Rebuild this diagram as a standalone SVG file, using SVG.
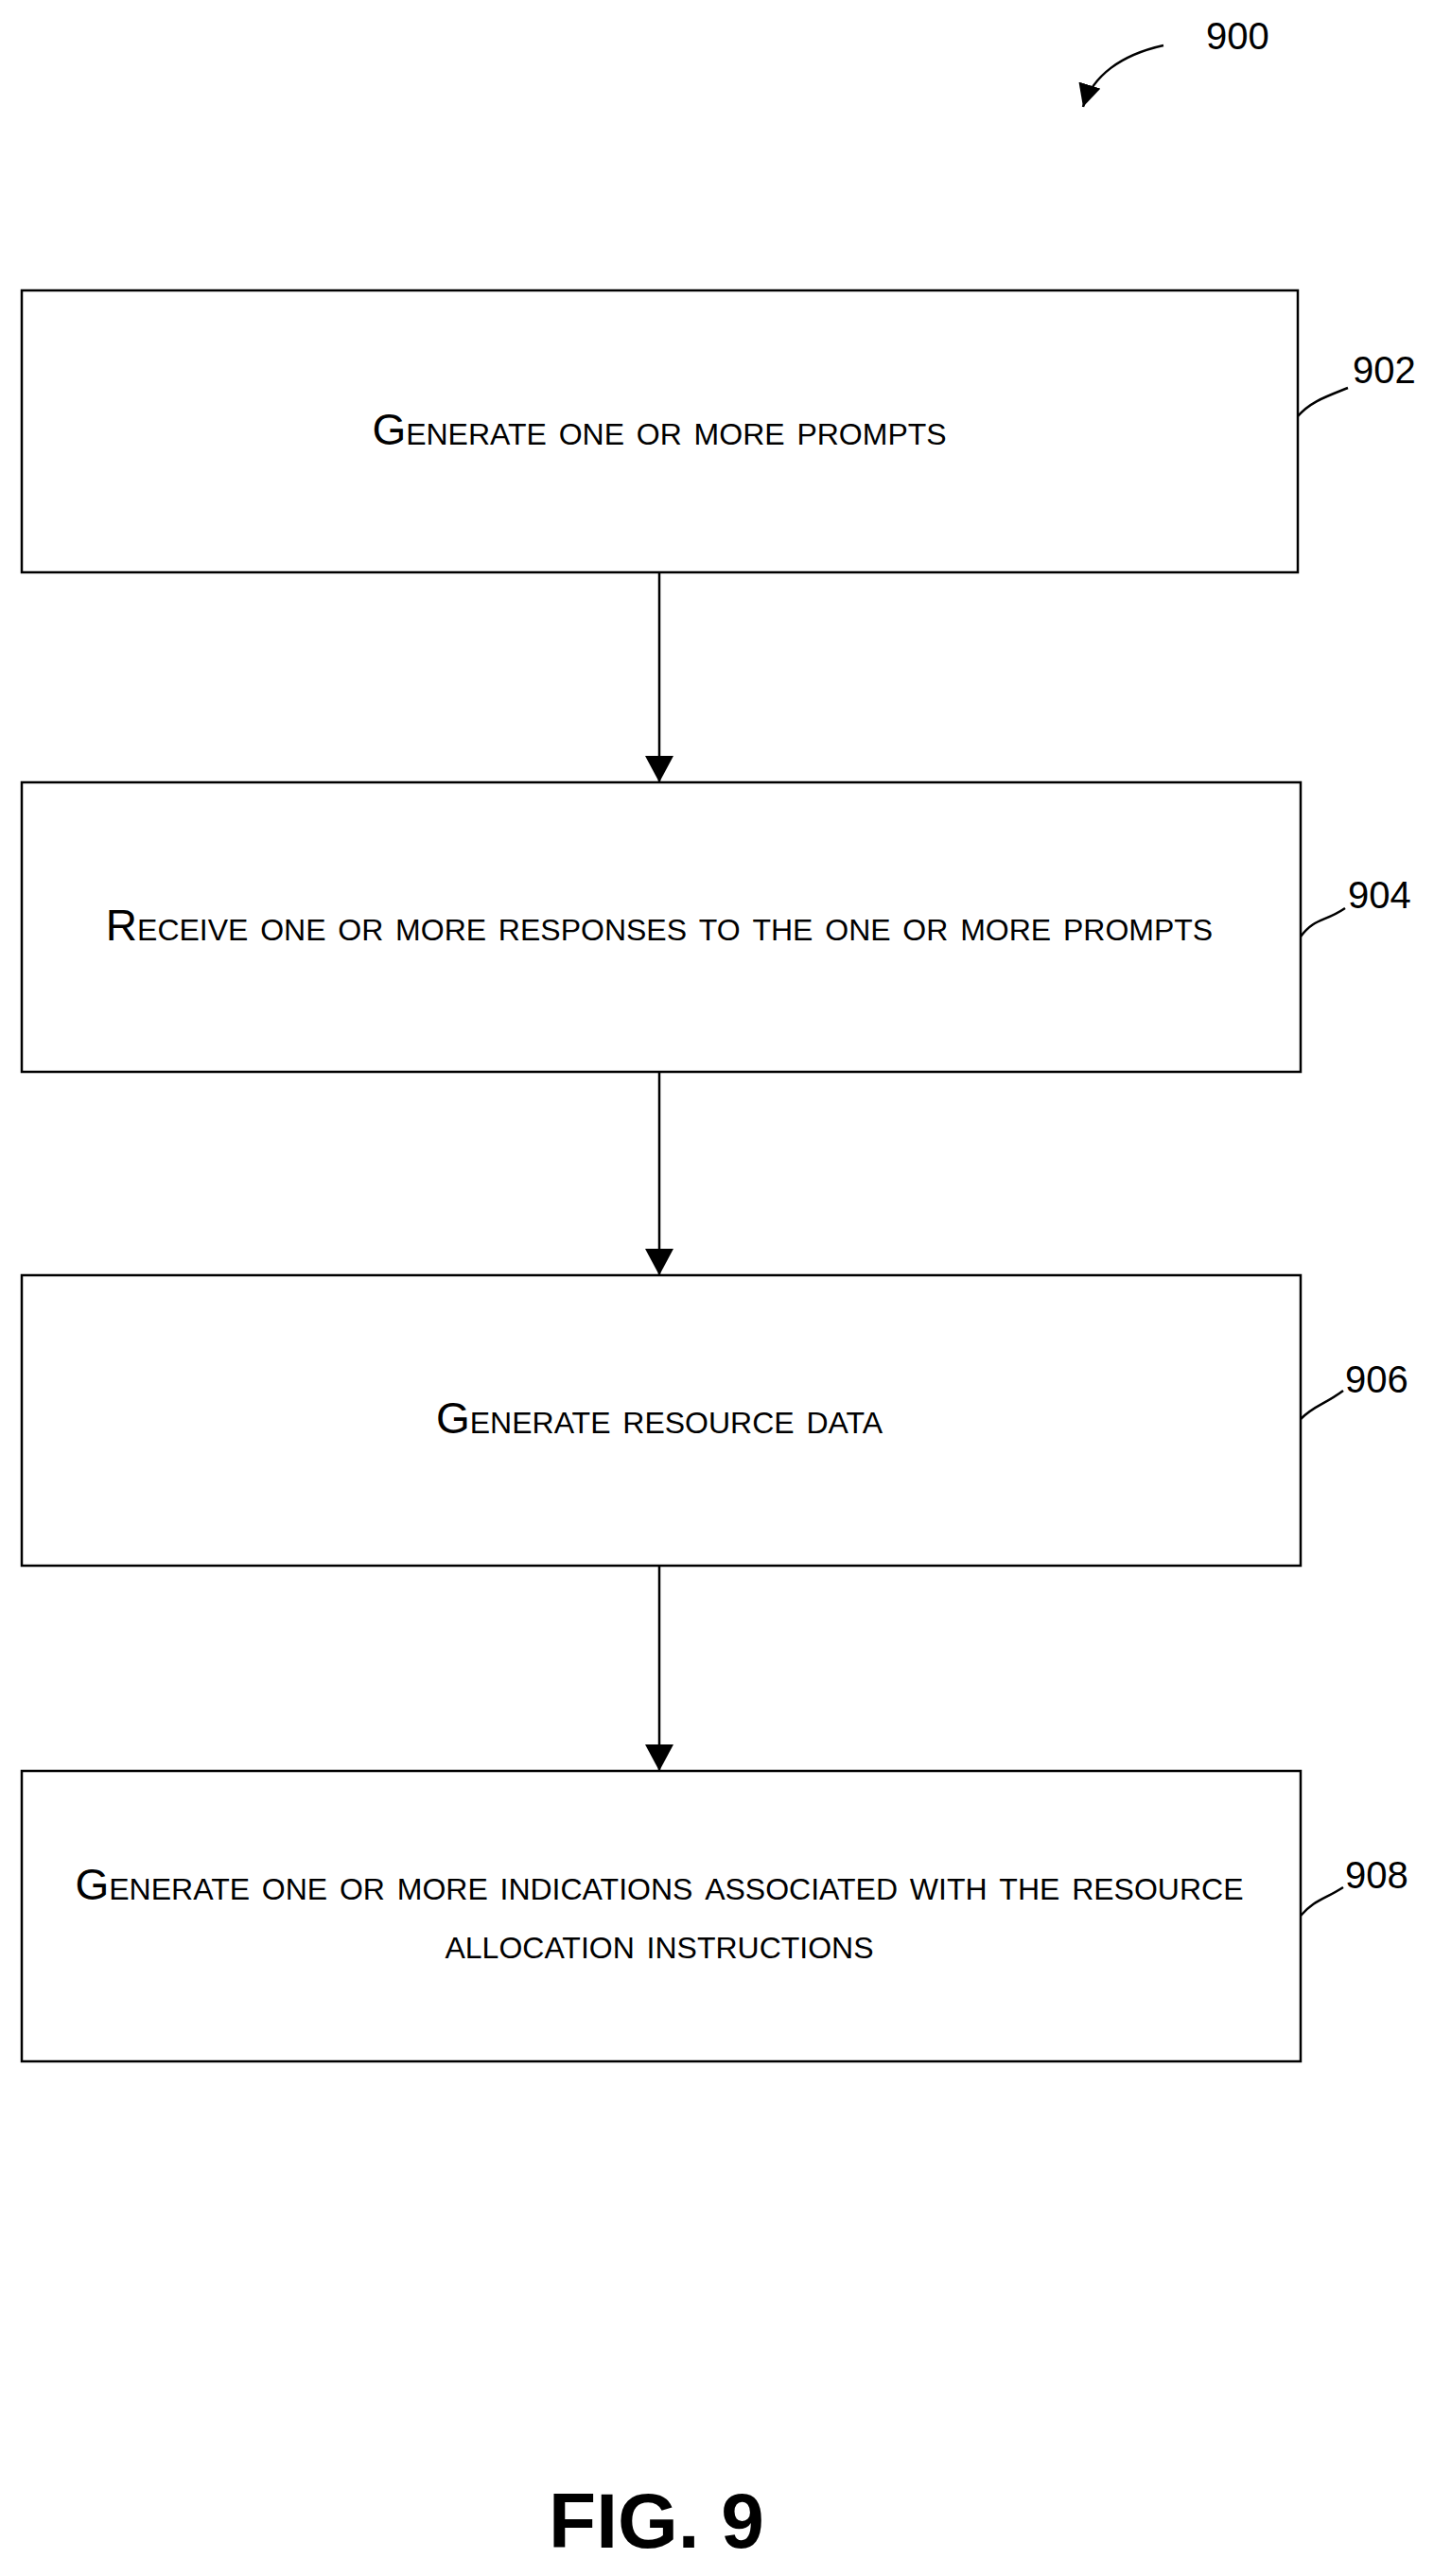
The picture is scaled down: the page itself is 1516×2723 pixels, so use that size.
<svg xmlns="http://www.w3.org/2000/svg" width="1516" height="2723" viewBox="0 0 1516 2723">
<style>
.box{fill:#fff;stroke:#000;stroke-width:2.5}
.t{font-family:"Liberation Sans",Arial,sans-serif;font-size:46px;font-variant:small-caps;text-anchor:middle}
.n{font-family:"Liberation Sans",Arial,sans-serif;font-size:40px}
.c{stroke:#000;stroke-width:2.5;fill:none}
</style>
<defs><marker id="a" markerWidth="24" markerHeight="24" refX="10" refY="5" orient="auto" markerUnits="userSpaceOnUse" viewBox="0 0 10 10"><path d="M0,0L10,5L0,10z"/></marker>
<marker id="b" markerWidth="28" markerHeight="30" refX="28" refY="15" orient="auto" markerUnits="userSpaceOnUse" viewBox="0 0 28 30"><path d="M0,0L28,15L0,30z"/></marker></defs>
<rect width="1516" height="2723" fill="#fff"/>
<g id="n900"><text class="n" x="1275" y="52">900</text><path class="c" d="M1230,48 C1185,58 1155,80 1145,113" marker-end="url(#a)"/></g>
<g id="n902"><rect class="box" x="23" y="307" width="1349" height="298"/><text class="t" x="697" y="470">Generate one or more prompts</text><text class="n" x="1430" y="405">902</text><path class="c" d="M1372,440 C1385,425 1400,420 1425,410"/></g>
<g id="n904"><rect class="box" x="23" y="827" width="1352" height="306"/><text class="t" x="697" y="994">Receive one or more responses to the one or more prompts</text><text class="n" x="1425" y="960">904</text><path class="c" d="M1375,990 C1390,970 1400,975 1422,960"/></g>
<g id="n906"><rect class="box" x="23" y="1348" width="1352" height="307"/><text class="t" x="697" y="1515">Generate resource data</text><text class="n" x="1422" y="1472">906</text><path class="c" d="M1375,1500 C1390,1485 1400,1485 1420,1470"/></g>
<g id="n908"><rect class="box" x="23" y="1872" width="1352" height="307"/><text class="t" x="697" y="2008">Generate one or more indications associated with the resource</text><text class="t" x="697" y="2070">allocation instructions</text><text class="n" x="1422" y="1996">908</text><path class="c" d="M1375,2025 C1390,2008 1400,2008 1420,1995"/></g>
<g id="connectors">
<line class="c" x1="697" y1="605" x2="697" y2="827" marker-end="url(#b)"/>
<line class="c" x1="697" y1="1133" x2="697" y2="1348" marker-end="url(#b)"/>
<line class="c" x1="697" y1="1655" x2="697" y2="1872" marker-end="url(#b)"/>
</g>
<text x="694" y="2693" font-family="Liberation Sans,Arial,sans-serif" font-weight="bold" font-size="82" text-anchor="middle">FIG. 9</text>
</svg>
